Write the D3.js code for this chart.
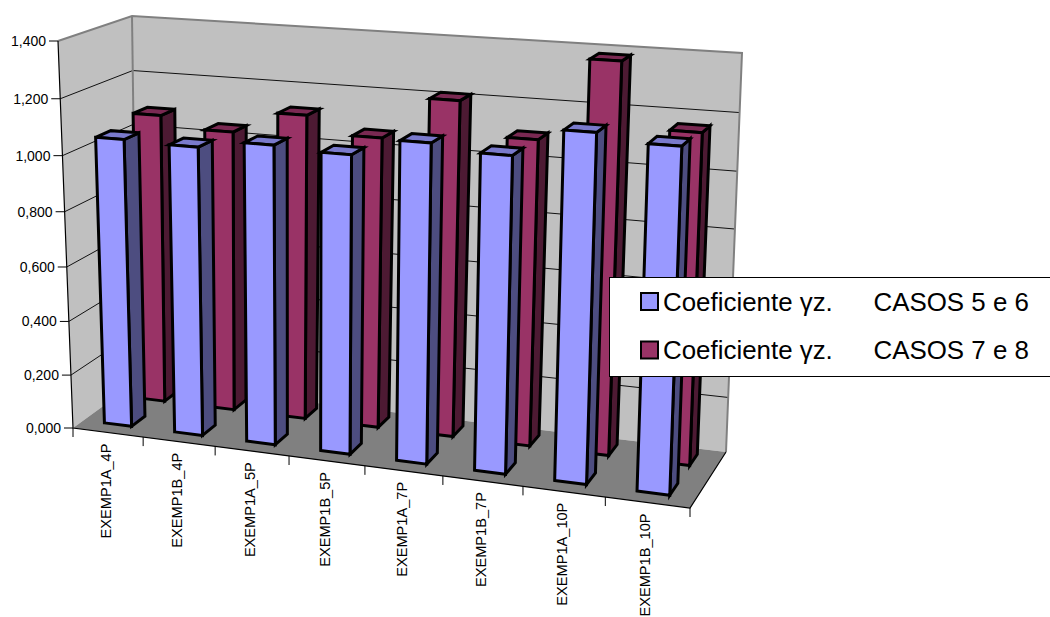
<!DOCTYPE html>
<html>
<head>
<meta charset="utf-8">
<script src="https://cdn.jsdelivr.net/npm/d3@7"></script>
<style>
html,body{margin:0;padding:0;background:#fff;overflow:hidden}
svg{display:block}
text{font-family:"Liberation Sans",Arial,sans-serif;fill:#000}
</style>
</head>
<body>
<svg id="chart" width="1050" height="617"></svg>
<script>
// Chart data
const categories = ["EXEMP1A_4P","EXEMP1B_4P","EXEMP1A_5P","EXEMP1B_5P","EXEMP1A_7P","EXEMP1B_7P","EXEMP1A_10P","EXEMP1B_10P"];
const casos56 = [1.053,1.047,1.075,1.063,1.124,1.103,1.2,1.176];
const casos78 = [1.08,1.04,1.12,1.06,1.21,1.095,1.38,1.16];
const gridValues = [0,0.2,0.4,0.6,0.8,1.0,1.2,1.4];
const legendLabels = ["Coeficiente γz.","Coeficiente γz."];
const legendCases = ["CASOS 5 e 6","CASOS 7 e 8"];

// Plot box corners in screen space: floor plane and ceiling plane
const floorQuad = [[73,428],[690,508],[726,452],[137,381.5]];
const ceilQuad  = [[58,41],[705,83],[742,53],[132,16]];
const verticalFalloff = -0.05;

// Unit square to quadrilateral mapping
function planeMap(q){
  const [[x0,y0],[x1,y1],[x2,y2],[x3,y3]] = q;
  const sx=x0-x1+x2-x3, sy=y0-y1+y2-y3;
  const dx1=x1-x2, dx2=x3-x2, dy1=y1-y2, dy2=y3-y2;
  const den=dx1*dy2-dx2*dy1;
  const g=(sx*dy2-dx2*sy)/den, h=(dx1*sy-sx*dy1)/den;
  const a=x1-x0+g*x1, b=x3-x0+h*x3, d=y1-y0+g*y1, e=y3-y0+h*y3;
  return (u,v)=>{
    const w=g*u+h*v+1;
    return [(a*u+b*v+x0)/w,(d*u+e*v+y0)/w];
  };
}
const floorMap = planeMap(floorQuad), ceilMap = planeMap(ceilQuad);

// Scales for the three chart axes
const xScale = d3.scaleLinear().domain([0,categories.length]).range([0,1]);
const zScale = d3.scaleLinear().domain([0,1]).range([0,1]);
const yScale = d3.scaleLinear().domain([0,1.4]).range([0,1]);

function project(cat,depth,val){
  const u=xScale(cat), v=zScale(depth), t=yScale(val);
  const b=floorMap(u,v), c=ceilMap(u,v);
  const f=t*(1+verticalFalloff)/(1+verticalFalloff*t);
  return [b[0]+(c[0]-b[0])*f, b[1]+(c[1]-b[1])*f];
}

const svg = d3.select("#chart");
const poly = d3.line().curve(d3.curveLinearClosed);
const seg = d3.line();
const colCount = categories.length;

// Walls and floor
const plot = svg.append("g");
plot.append("path").attr("fill","#c0c0c0").attr("stroke","none")
  .attr("d",poly([project(0,0,0),project(0,1,0),project(0,1,1.4),project(0,0,1.4)]));
plot.append("path").attr("fill","#c0c0c0").attr("stroke","none")
  .attr("d",poly([project(0,1,0),project(colCount,1,0),project(colCount,1,1.4),project(0,1,1.4)]));
plot.append("path").attr("fill","#808080").attr("stroke","none")
  .attr("d",poly([project(0,0,0),project(colCount,0,0),project(colCount,1,0),project(0,1,0)]));

// Gridlines on both walls
plot.selectAll("path.grid").data(gridValues.slice(1,-1)).join("path").attr("class","grid")
  .attr("fill","none").attr("stroke","#111").attr("stroke-width",1)
  .attr("d",g=>seg([project(0,0,g),project(0,1,g),project(colCount,1,g)]));

// Grey wall frame
plot.append("path").attr("fill","none").attr("stroke","#808080").attr("stroke-width",2)
  .attr("stroke-linejoin","miter")
  .attr("d",seg([project(0,0,1.4),project(0,1,1.4),project(colCount,1,1.4),project(colCount,1,0)]));
plot.append("path").attr("fill","none").attr("stroke","#808080").attr("stroke-width",2)
  .attr("d",seg([project(0,1,1.4),project(0,1,0)]));

// Axis lines
plot.append("path").attr("fill","none").attr("stroke","#000").attr("stroke-width",1.2)
  .attr("d",seg([project(0,0,1.4),project(0,0,0),project(colCount,0,0),project(colCount,1,0)]));

// Value axis ticks and labels
const yAxis = svg.append("g");
yAxis.selectAll("line").data(gridValues).join("line")
  .attr("x1",g=>project(0,0,g)[0]-9).attr("x2",g=>project(0,0,g)[0])
  .attr("y1",g=>project(0,0,g)[1]).attr("y2",g=>project(0,0,g)[1])
  .attr("stroke","#000").attr("stroke-width",1);
yAxis.selectAll("text").data(gridValues).join("text")
  .attr("x",g=>project(0,0,g)[0]-12).attr("y",g=>project(0,0,g)[1])
  .attr("text-anchor","end").attr("dominant-baseline","central").attr("font-size",14)
  .text(g=>d3.format(".3f")(g).replace(".",","));

// Category ticks and rotated labels
const xAxis = svg.append("g");
xAxis.selectAll("line").data(d3.range(colCount+1)).join("line")
  .attr("x1",i=>project(i,0,0)[0]).attr("x2",i=>project(i,0,0)[0])
  .attr("y1",i=>project(i,0,0)[1]).attr("y2",i=>project(i,0,0)[1]+9)
  .attr("stroke","#000").attr("stroke-width",1);
xAxis.selectAll("text").data(categories).join("text")
  .attr("transform",(c,i)=>{const p=project(i+0.5,0,0);return `translate(${p[0]-2},${p[1]+11}) rotate(-90)`;})
  .attr("text-anchor","end").attr("dominant-baseline","central").attr("font-size",14.6)
  .text(c=>c);

// 3D columns: one row per series, the far row first
const barInset = [0.30,0.69];
const seriesRows = [
  {values:casos78, depth:[0.69,0.90], front:"#993366", side:"#4d1a33", top:"#7a2952"},
  {values:casos56, depth:[0.16,0.37], front:"#9999ff", side:"#4d4d80", top:"#7a7acc"}
];
seriesRows.forEach(s=>{
  const g = svg.append("g");
  s.values.forEach((val,i)=>{
    const l=i+barInset[0], r=i+barInset[1], n=s.depth[0], f=s.depth[1];
    const face=(pts,fill)=>g.append("path").attr("d",poly(pts)).attr("fill",fill)
      .attr("stroke","#000").attr("stroke-width",3).attr("stroke-linejoin","miter");
    face([project(r,n,0),project(r,f,0),project(r,f,val),project(r,n,val)],s.side);
    face([project(l,n,val),project(r,n,val),project(r,f,val),project(l,f,val)],s.top);
    face([project(l,n,0),project(r,n,0),project(r,n,val),project(l,n,val)],s.front);
  });
});

// Legend box running off the right edge
const legend = svg.append("g");
legend.append("rect").attr("x",609.5).attr("y",277.5).attr("width",460).attr("height",99)
  .attr("fill","#fff").attr("stroke","#000").attr("stroke-width",1);
const legendRows = [
  {fill:seriesRows[1].front, top:293, base:310.5},
  {fill:seriesRows[0].front, top:341.5, base:359}
];
legendRows.forEach((row,i)=>{
  legend.append("rect").attr("x",641).attr("y",row.top).attr("width",17).attr("height",17)
    .attr("fill",row.fill).attr("stroke","#000").attr("stroke-width",2);
  legend.append("text").attr("x",663).attr("y",row.base).attr("font-size",25.9).text(legendLabels[i]);
  legend.append("text").attr("x",873.5).attr("y",row.base).attr("font-size",25.9).text(legendCases[i]);
});
</script>
</body>
</html>
